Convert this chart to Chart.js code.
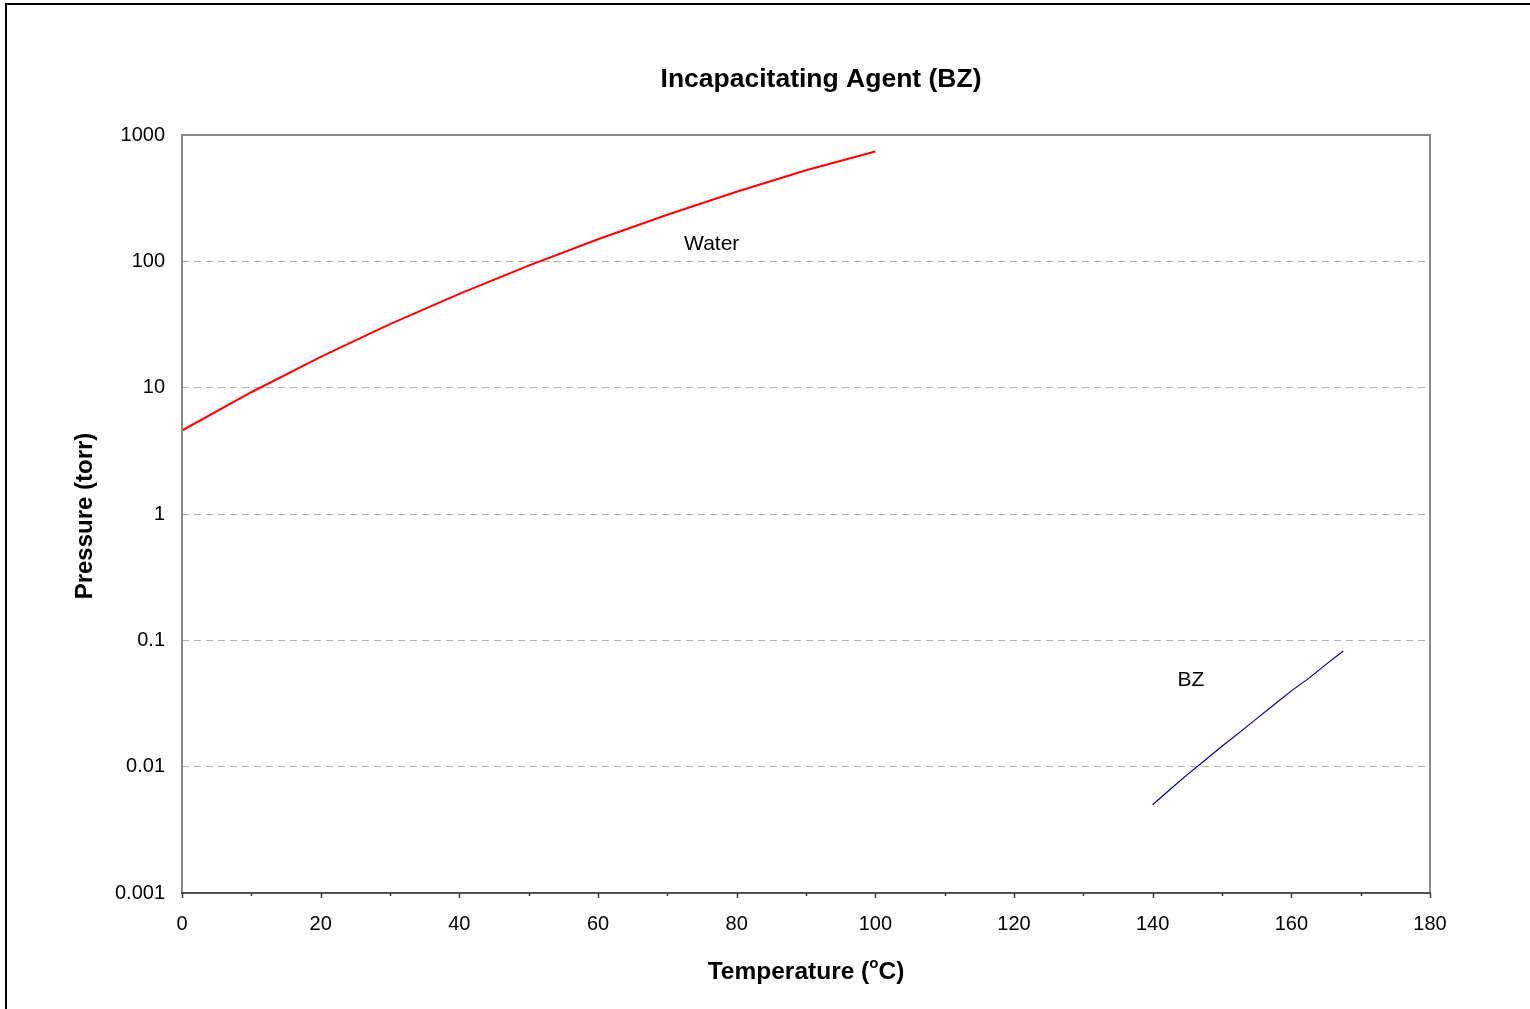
<!DOCTYPE html>
<html>
<head>
<meta charset="utf-8">
<script src="https://cdn.jsdelivr.net/npm/chart.js@4"></script>
<style>
html,body{margin:0;padding:0;background:#fff;}
#wrap{width:1530px;height:1009px;position:relative;}
</style>
</head>
<body>
<div id="wrap"><canvas id="c" width="1530" height="1009"></canvas></div>
<script>
// ---- data ----
const waterTemps = [0, 10, 20, 30, 40, 50, 60, 70, 80, 90, 100];
const waterPressure = [4.58, 9.2, 17.5, 31.8, 55.3, 92.5, 149.4, 233.7, 355.1, 525.8, 740];
const bzTemps = [140, 142.5, 145, 147.5, 150, 152.5, 155, 157.5, 160, 162.5, 165, 167.5];
const bzPressure = [0.0050, 0.0066, 0.00865, 0.0112, 0.0145, 0.0186, 0.0240, 0.0309, 0.0398, 0.0500, 0.0645, 0.0824];
const xMajorTicks = [0, 20, 40, 60, 80, 100, 120, 140, 160, 180];
const xMinorTicks = [10, 30, 50, 70, 90, 110, 130, 150, 170];
const yTickValues = [0.001, 0.01, 0.1, 1, 10, 100, 1000];
const yTickLabels = ['0.001', '0.01', '0.1', '1', '10', '100', '1000'];
const seriesLabels = ['Water', 'BZ'];
const labelTemps = [76.4, 145.5];
const labelPressures = [137, 0.048];

const FONT = '"Liberation Sans", Arial, sans-serif';

const frame = {
  id: 'frame',
  afterDraw(chart) {
    const ctx = chart.ctx;
    const a = chart.chartArea;
    const xs = chart.scales.x, ys = chart.scales.y;
    ctx.save();
    // outer frame
    ctx.strokeStyle = '#000';
    ctx.lineWidth = 2;
    ctx.beginPath();
    ctx.moveTo(6, 1009);
    ctx.lineTo(6, 4);
    ctx.lineTo(1530, 4);
    ctx.stroke();
    // plot border
    ctx.strokeStyle = '#888888';
    ctx.lineWidth = 2;
    ctx.strokeRect(a.left, a.top, a.right - a.left, a.bottom - a.top);
    // bottom axis darker, with ticks
    ctx.strokeStyle = '#404040';
    ctx.lineWidth = 1.5;
    ctx.beginPath();
    ctx.moveTo(a.left - 1, a.bottom);
    ctx.lineTo(a.right + 1, a.bottom);
    for (const v of xMajorTicks) {
      const px = Math.round(xs.getPixelForValue(v)) + 0.5;
      ctx.moveTo(px, a.bottom);
      ctx.lineTo(px, a.bottom + 5);
    }
    for (const v of xMinorTicks) {
      const px = Math.round(xs.getPixelForValue(v)) + 0.5;
      ctx.moveTo(px, a.bottom);
      ctx.lineTo(px, a.bottom + 3);
    }
    ctx.stroke();
    // title
    ctx.fillStyle = '#000';
    ctx.textAlign = 'center';
    ctx.textBaseline = 'middle';
    ctx.font = 'bold 26.5px ' + FONT;
    ctx.fillText('Incapacitating Agent (BZ)', 821, 80);
    // x axis title with superscript
    const p1 = 'Temperature (', p2 = 'C)';
    ctx.font = 'bold 24.5px ' + FONT;
    const w1 = ctx.measureText(p1).width, w3 = ctx.measureText(p2).width;
    ctx.font = 'bold 15px ' + FONT;
    const w2 = ctx.measureText('o').width;
    const total = w1 + w2 + w3;
    let x0 = 806 - total / 2;
    ctx.textAlign = 'left';
    ctx.font = 'bold 24.5px ' + FONT;
    ctx.fillText(p1, x0, 972);
    ctx.font = 'bold 15px ' + FONT;
    ctx.fillText('o', x0 + w1, 964);
    ctx.font = 'bold 24.5px ' + FONT;
    ctx.fillText(p2, x0 + w1 + w2, 972);
    // y axis title
    ctx.save();
    ctx.translate(85, 516);
    ctx.rotate(-Math.PI / 2);
    ctx.textAlign = 'center';
    ctx.font = 'bold 24px ' + FONT;
    ctx.fillText('Pressure (torr)', 0, 0);
    ctx.restore();
    // series labels
    ctx.font = '21px ' + FONT;
    ctx.textAlign = 'center';
    for (let i = 0; i < seriesLabels.length; i++) {
      ctx.fillText(seriesLabels[i], xs.getPixelForValue(labelTemps[i]), ys.getPixelForValue(labelPressures[i]));
    }
    ctx.restore();
  }
};

new Chart(document.getElementById('c'), {
  type: 'line',
  data: {
    datasets: [
      {
        label: seriesLabels[0],
        data: waterTemps.map((t, i) => ({x: t, y: waterPressure[i]})),
        borderColor: '#ff0000',
        borderWidth: 2,
        pointRadius: 0,
        tension: 0,
        fill: false
      },
      {
        label: seriesLabels[1],
        data: bzTemps.map((t, i) => ({x: t, y: bzPressure[i]})),
        borderColor: '#000080',
        borderWidth: 1.2,
        pointRadius: 0,
        tension: 0,
        fill: false
      }
    ]
  },
  options: {
    responsive: false,
    animation: false,
    layout: { padding: { left: 82, top: 135, right: 100, bottom: 66 } },
    plugins: { legend: { display: false }, title: { display: false }, tooltip: { enabled: false } },
    scales: {
      x: {
        type: 'linear',
        min: 0, max: 180,
        afterFit: s => { s.height = 50; },
        afterBuildTicks: s => { s.ticks = xMajorTicks.map(v => ({value: v})); },
        ticks: {
          autoSkip: false,
          maxRotation: 0,
          color: '#000',
          font: { family: FONT, size: 20 },
          padding: 14
        },
        grid: {
          drawOnChartArea: false,
          drawTicks: true,
          tickLength: 5,
          tickColor: 'rgba(0,0,0,0)'
        },
        border: { display: false }
      },
      y: {
        type: 'logarithmic',
        min: 0.001, max: 1000,
        afterFit: s => { s.width = 100; },
        afterBuildTicks: s => { s.ticks = yTickValues.map(v => ({value: v})); },
        ticks: {
          autoSkip: false,
          color: '#000',
          font: { family: FONT, size: 20 },
          padding: 17,
          callback: v => { const i = yTickValues.indexOf(v); return i >= 0 ? yTickLabels[i] : ''; }
        },
        grid: {
          drawOnChartArea: true,
          color: '#b0b0b0',
          lineWidth: 1,
          drawTicks: false
        },
        border: { display: false, dash: [7, 5] }
      }
    }
  },
  plugins: [frame]
});
</script>
</body>
</html>
